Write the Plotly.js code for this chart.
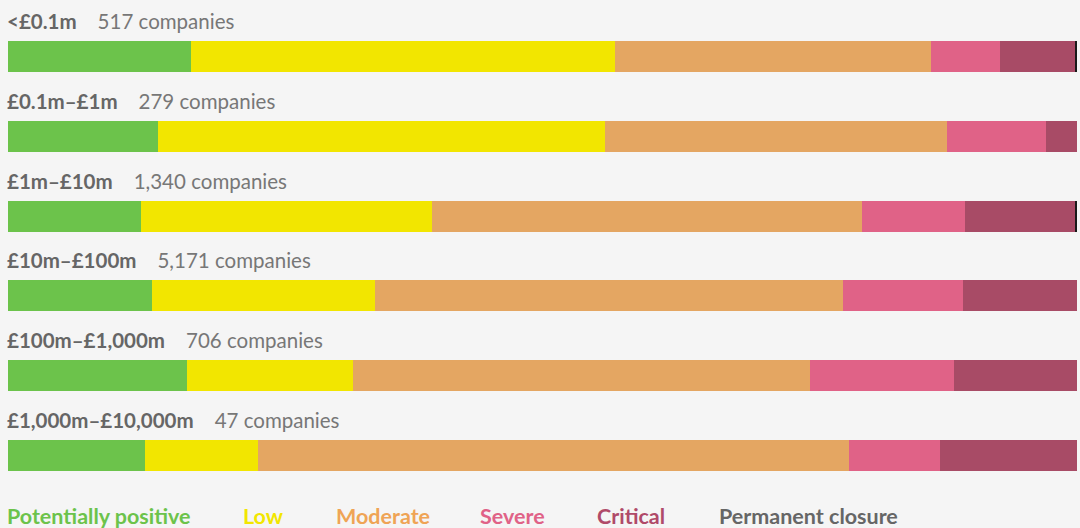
<!DOCTYPE html>
<html>
<head>
<meta charset="utf-8">
<script src="https://cdn.plot.ly/plotly-3.0.1.min.js"></script>
<style>
  html, body { margin: 0; padding: 0; background: #f5f5f5; }
  #chart { width: 1080px; height: 528px; }
</style>
</head>
<body>
<div id="chart"></div>
<script>
// ---- Data ----
const categories = ['<£0.1m', '£0.1m–£1m', '£1m–£10m', '£10m–£100m', '£100m–£1,000m', '£1,000m–£10,000m'];
const companyCounts = [517, 279, 1340, 5171, 706, 47];
const seriesNames = ['Potentially positive', 'Low', 'Moderate', 'Severe', 'Critical', 'Permanent closure'];
const positive = [17.1, 14.0, 12.4, 13.5, 16.7, 12.8];
const low      = [39.7, 41.8, 27.3, 20.8, 15.6, 10.6];
const moderate = [29.5, 32.0, 40.2, 43.8, 42.7, 55.3];
const severe   = [6.5, 9.3, 9.6, 11.2, 13.5, 8.5];
const critical = [7.0, 2.9, 10.3, 10.7, 11.5, 12.8];
const closure  = [0.2, 0.0, 0.2, 0.0, 0.0, 0.0];

// ---- Styles ----
const barColors    = ['#6cc34b', '#f2e600', '#e4a662', '#e06287', '#a84b66', '#1a1a1a'];
const legendColors = ['#6cc34b', '#f2e600', '#efa455', '#e06287', '#b04a69', '#666666'];
const legendX = [7, 243, 336, 480, 597, 719];
const FONT = 'Lato, "Source Sans Pro", "Open Sans", sans-serif';

const series = [positive, low, moderate, severe, critical, closure];
const yIdx = categories.map((_, i) => i);

const traces = series.map((vals, k) => ({
  type: 'bar',
  orientation: 'h',
  name: seriesNames[k],
  x: vals,
  y: yIdx,
  width: 0.3885,
  marker: { color: barColors[k], line: { width: 0 } },
  hoverinfo: 'skip',
  showlegend: false
}));

const esc = s => s.replace(/&/g, '&amp;').replace(/</g, '&lt;').replace(/>/g, '&gt;');

const annotations = [];
categories.forEach((c, i) => {
  annotations.push({
    xref: 'x', yref: 'y', x: 0, y: i - 0.445, xshift: -3,
    xanchor: 'left', yanchor: 'middle', showarrow: false,
    text: '<b><span style="color:#666666">' + esc(c) + '</span></b>&nbsp;&nbsp;&nbsp;&nbsp;' +
          '<span style="color:#777777">' + companyCounts[i].toLocaleString('en-GB') + ' companies</span>',
    font: { family: FONT, size: 20.5, color: '#777777' }
  });
});
seriesNames.forEach((n, k) => {
  annotations.push({
    xref: 'paper', yref: 'paper', x: (legendX[k] - 8) / 1069, y: -0.0403, xshift: -2,
    xanchor: 'left', yanchor: 'middle', showarrow: false,
    text: '<b>' + n + '</b>',
    font: { family: FONT, size: 21.5, color: legendColors[k] }
  });
});

const layout = {
  width: 1080, height: 528,
  margin: { l: 8, r: 3, t: 0, b: 32, pad: 0 },
  paper_bgcolor: '#f5f5f5',
  plot_bgcolor: '#f5f5f5',
  barmode: 'stack',
  bargap: 0,
  showlegend: false,
  xaxis: { range: [0, 100], visible: false, fixedrange: true },
  yaxis: { range: [5.508, -0.708], visible: false, fixedrange: true },
  annotations: annotations,
  font: { family: FONT }
};

Plotly.newPlot('chart', traces, layout, { displayModeBar: false, staticPlot: true });
</script>
</body>
</html>
